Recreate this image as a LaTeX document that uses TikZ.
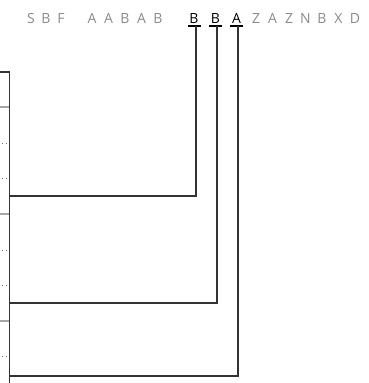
\documentclass[tikz,border=0pt]{standalone}
\usepackage{fontspec}
\setmainfont{Open Sans}
\usetikzlibrary{calc}
\definecolor{txtgray}{HTML}{8A8A8A}
\definecolor{linedark}{HTML}{333333}
\definecolor{rulegray}{HTML}{A5A5A5}
\begin{document}
\begin{tikzpicture}[x=1pt,y=-1pt,
  seq/.style={font=\fontsize{14}{14}\selectfont, text=txtgray, inner sep=0pt, anchor=base},
  hit/.style={seq, text=black},
  conn/.style={draw=linedark, line width=1.3pt},
  uline/.style={draw=black, line width=1.1pt},
  rowrule/.style={draw=rulegray, line width=1.6pt},
  rowdot/.style={draw=linedark!70, line width=1pt, dash pattern=on 1.2pt off 3pt, dash phase=-1.5pt}]
\useasboundingbox (0,0) rectangle (369,383);
% sequence letters
\foreach \c/\x [count=\i] in {S/31,B/46,F/61,A/92,A/108.5,B/125,A/141.5,B/158,Z/256,A/272.5,Z/289,N/305.5,B/322,X/338.5,D/355}
  \node[seq] (s\i) at (\x,23) {\c};
\node[hit] (h1) at (194,23) {B};
\node[hit] (h2) at (215.5,23) {B};
\node[hit] (h3) at (236.5,23) {A};
\foreach \i in {1,2,3}
  \draw[uline] ($(h\i.base)+(-6.5,3)$) -- ($(h\i.base)+(6.5,3)$);
% table on the left
\coordinate (top) at (0,72);
\coordinate (corner) at (9.5,72);
\coordinate (bottom) at (9.5,383);
\draw[conn] (top) -- (corner) -- (bottom);
\foreach \y in {107,214,321}
  \draw[rowrule] (0,\y) -- (8.8,\y);
\foreach \y in {143,178,250,285,356}
  \draw[rowdot] (0,\y) -- (9,\y);
% connector ends
\coordinate (u1) at (196,26);
\coordinate (u2) at (217,26);
\coordinate (u3) at (238,26);
\coordinate (r1) at (9.5,196);
\coordinate (r2) at (9.5,303);
\coordinate (r3) at (9.5,376);
\draw[conn] (u1) |- (r1);
\draw[conn] (u2) |- (r2);
\draw[conn] (u3) |- (r3);
\end{tikzpicture}
\end{document}
